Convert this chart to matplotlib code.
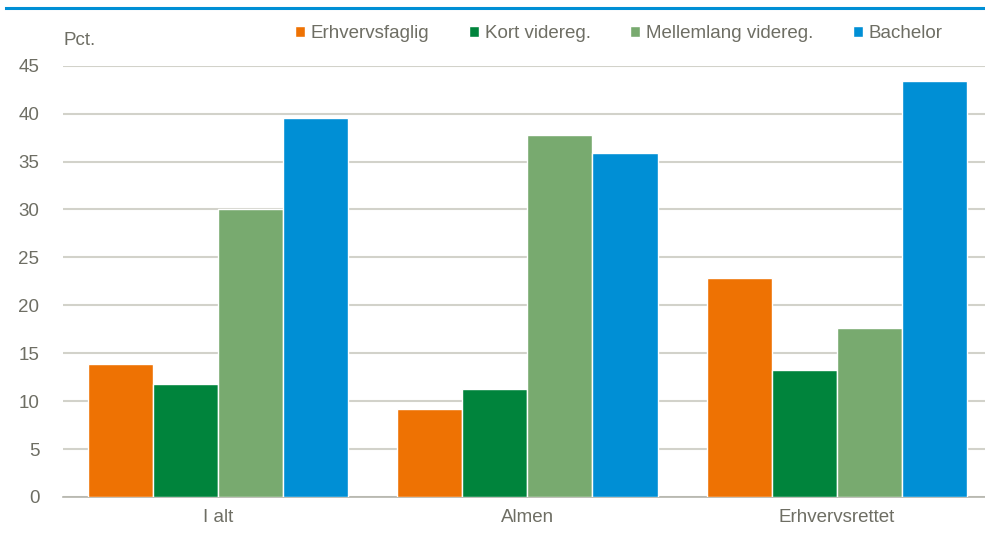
import matplotlib.pyplot as plt
import numpy as np
from matplotlib import font_manager

names = {f.name for f in font_manager.fontManager.ttflist}
if 'Liberation Sans Narrow' in names:
    plt.rcParams['font.family'] = ['Liberation Sans Narrow', 'DejaVu Sans']
    fs = 15
else:
    plt.rcParams['font.family'] = ['Liberation Sans', 'DejaVu Sans']
    fs = 13.5

groups = ['I alt', 'Almen', 'Erhvervsrettet']
series = ['Erhvervsfaglig', 'Kort videreg.', 'Mellemlang videreg.', 'Bachelor']
erhvervsfaglig = [13.9, 9.2, 22.9]
kort = [11.8, 11.3, 13.2]
mellemlang = [30.0, 37.8, 17.6]
bachelor = [39.5, 35.9, 43.4]
colors = ['#EE7203', '#00843C', '#78AA6F', '#008FD5']

txt = '#6E6E64'
fig = plt.figure(figsize=(9.85, 5.39), dpi=100)
ax = fig.add_axes([0.064, 0.078, 0.943, 0.8])

x = np.arange(len(groups))
w = 0.21
for i, vals in enumerate([erhvervsfaglig, kort, mellemlang, bachelor]):
    ax.bar(x + (i - 1.5) * w, vals, w, color=colors[i], edgecolor='white',
           linewidth=1, label=series[i], zorder=3)

ax.set_xlim(-0.5, 2.5)
ax.set_ylim(0, 45)
ax.set_yticks(range(0, 46, 5))
ax.set_xticks(x)
ax.set_xticklabels(groups)
ax.yaxis.grid(True, color='#D2D2CA', linewidth=1.5, zorder=0)
for s in ['top', 'right', 'left']:
    ax.spines[s].set_visible(False)
ax.spines['bottom'].set_color('#B4B4AC')
ax.spines['bottom'].set_linewidth(1.2)
ax.tick_params(axis='both', length=0, labelsize=fs, colors=txt)
ax.tick_params(axis='y', pad=17)
ax.tick_params(axis='x', pad=9)

fig.text(0.064, 0.925, 'Pct.', fontsize=fs, color=txt, va='center')
fig.add_artist(plt.Line2D([0.006, 1.0], [0.985, 0.985], color='#008FD5',
                          linewidth=2.2))

leg = fig.legend(loc='center', bbox_to_anchor=(0.628, 0.938), ncol=4,
                 frameon=False, fontsize=fs, handlelength=0.55,
                 handleheight=0.55, handletextpad=0.3, columnspacing=2.1)
for t in leg.get_texts():
    t.set_color(txt)

fig.savefig('out.png', dpi=100)
